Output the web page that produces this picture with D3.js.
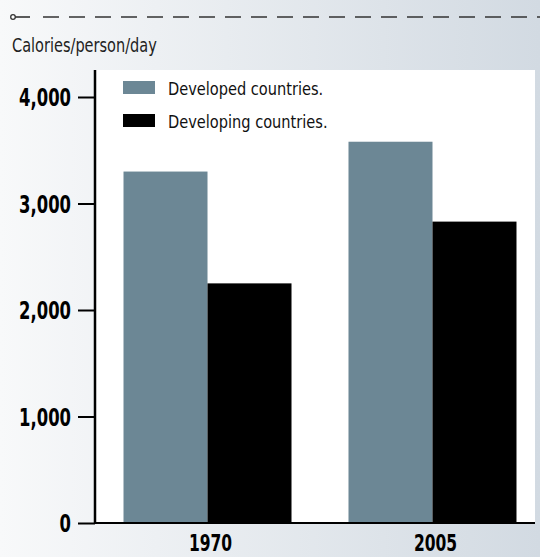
<!DOCTYPE html>
<html>
<head>
<meta charset="utf-8">
<script src="https://cdn.jsdelivr.net/npm/d3@7"></script>
<style>
html, body { margin:0; padding:0; }
body { width:540px; height:557px; overflow:hidden; }
text { font-family: "DejaVu Sans Condensed", "DejaVu Sans", sans-serif; }
</style>
</head>
<body>
<svg id="chart" width="540" height="557"></svg>
<script>
// data
var years = ["1970", "2005"];
var groups = ["Developed countries.", "Developing countries."];
var developed = [3300, 3580];
var developing = [2250, 2830];
var yTicks = [0, 1000, 2000, 3000, 4000];
var colors = ["#6c8795", "#000000"];

var W = 540, H = 557;
var FONT = "\"DejaVu Sans Condensed\", \"DejaVu Sans\", sans-serif";
var svg = d3.select("#chart");

// squeeze a text horizontally (the original face is a narrow one)
function condense(sel, factor){
	sel.each(function(){
		var w = this.getComputedTextLength();
		d3.select(this).attr("textLength", w * factor).attr("lengthAdjust", "spacingAndGlyphs");
	});
}

// background gradient
var defs = svg.append("defs");
var lg = defs.append("linearGradient").attr("id", "bg")
	.attr("x1", 0).attr("y1", 0).attr("x2", 1).attr("y2", 0);
lg.append("stop").attr("offset", "0%").attr("stop-color", "#f8f9fa");
lg.append("stop").attr("offset", "100%").attr("stop-color", "#d2dae2");
svg.append("rect").attr("width", W).attr("height", H).attr("fill", "url(#bg)");

// dashed rule at top
svg.append("line").attr("x1", 15).attr("x2", 30).attr("y1", 17).attr("y2", 17)
	.attr("stroke", "#333").attr("stroke-width", 1.6);
svg.append("line").attr("x1", 43).attr("x2", W).attr("y1", 17).attr("y2", 17)
	.attr("stroke", "#333").attr("stroke-width", 1.6)
	.attr("stroke-dasharray", "16,10");
svg.append("circle").attr("cx", 13).attr("cy", 17).attr("r", 2.3)
	.attr("fill", "#fff").attr("stroke", "#333").attr("stroke-width", 1.3);

svg.append("text").attr("x", 12).attr("y", 52)
	.attr("font-size", 19).attr("fill", "#222").text("Calories/person/day")
	.call(condense, 0.85);

var plot = {left: 95, right: 535, top: 70, bottom: 523};

var y = d3.scaleLinear().domain([0, 4000]).range([plot.bottom, 97]);
var x0 = d3.scaleBand().domain(years).range([95, 545])
	.paddingInner(0.2533).paddingOuter(0.1267);
var x1 = d3.scaleBand().domain(groups).range([0, x0.bandwidth()]);

// white plot area
svg.append("rect").attr("x", plot.left).attr("y", plot.top)
	.attr("width", plot.right - plot.left).attr("height", plot.bottom - plot.top)
	.attr("fill", "#fff");

var rows = years.map(function(yr, i){
	return {year: yr, values: [developed[i], developing[i]]};
});

var gYear = svg.selectAll(".year").data(rows).enter().append("g")
	.attr("class", "year")
	.attr("transform", function(d){ return "translate(" + x0(d.year) + ",0)"; });
gYear.selectAll("rect").data(function(d){
		return d.values.map(function(v, k){ return {g: groups[k], v: v, k: k}; });
	}).enter().append("rect")
	.attr("x", function(d){ return x1(d.g); })
	.attr("width", x1.bandwidth())
	.attr("y", function(d){ return y(d.v); })
	.attr("height", function(d){ return y(0) - y(d.v); })
	.attr("fill", function(d){ return colors[d.k]; });

// y axis
var yAxis = d3.axisLeft(y).tickValues(yTicks).tickSize(17).tickPadding(7)
	.tickFormat(d3.format(","));
var gy = svg.append("g").attr("transform", "translate(" + plot.left + ",0)").call(yAxis);
gy.select(".domain").remove();
gy.selectAll(".tick line").attr("stroke", "#000").attr("stroke-width", 2);
gy.selectAll(".tick text").attr("font-size", 24).attr("font-weight", "bold")
	.attr("fill", "#000").attr("dy", "0.36em").style("font-family", FONT)
	.call(condense, 0.76);
svg.append("line").attr("x1", plot.left).attr("x2", plot.left)
	.attr("y1", plot.top).attr("y2", plot.bottom + 1)
	.attr("stroke", "#000").attr("stroke-width", 2.5);

// x axis
var xAxis = d3.axisBottom(x0).tickSize(0).tickPadding(0);
var gx = svg.append("g").attr("transform", "translate(0," + plot.bottom + ")").call(xAxis);
gx.select(".domain").remove();
gx.selectAll(".tick text").attr("font-size", 23).attr("font-weight", "bold")
	.attr("fill", "#000").attr("y", 28).attr("dy", 0).attr("dx", 3).style("font-family", FONT)
	.call(condense, 0.75);
svg.append("line").attr("x1", plot.left).attr("x2", plot.right)
	.attr("y1", plot.bottom).attr("y2", plot.bottom)
	.attr("stroke", "#000").attr("stroke-width", 2);

// legend
var leg = svg.selectAll(".legend").data(groups).enter().append("g")
	.attr("class", "legend")
	.attr("transform", function(d, i){ return "translate(123," + (81 + i * 33) + ")"; });
leg.append("rect").attr("width", 32).attr("height", 13)
	.attr("fill", function(d, i){ return colors[i]; });
leg.append("text").attr("x", 45).attr("y", 13.5).attr("font-size", 18)
	.attr("fill", "#111").text(function(d){ return d; })
	.call(condense, 0.9);
</script>
</body>
</html>
